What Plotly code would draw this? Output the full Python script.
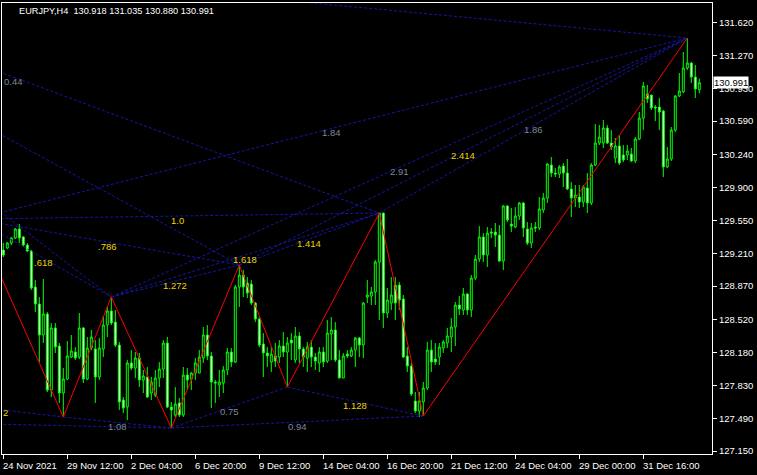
import plotly.graph_objects as go

# ---------------- data ----------------
opens = [129.246,129.267,129.319,129.371,129.465,129.382,129.298,129.236,128.860,128.683,
         128.360,128.579,127.786,128.433,128.245,127.755,127.901,128.130,128.182,128.130,
         128.433,127.901,128.224,128.214,127.922,128.214,128.464,128.610,128.495,128.255,
         127.682,127.609,128.068,128.015,128.120,127.890,127.922,127.755,127.734,127.911,
         128.005,128.276,127.609,127.525,127.651,127.525,127.942,127.901,127.963,127.963,
         128.120,128.360,128.141,127.870,127.838,127.859,127.995,128.182,128.078,128.860,
         128.985,128.902,128.891,128.693,128.526,128.266,128.172,128.078,128.141,128.130,
         128.245,128.182,128.307,128.099,128.349,128.214,128.120,128.234,128.130,128.068,
         128.182,128.088,128.370,128.412,128.099,127.911,128.161,128.141,128.203,128.328,
         128.255,128.756,128.766,128.808,129.121,129.632,128.589,128.693,128.881,128.881,
         128.735,128.141,128.036,127.671,127.567,127.661,127.807,128.203,128.109,128.130,
         128.224,128.276,128.339,128.443,128.672,128.620,128.787,128.620,128.954,129.152,
         129.382,129.194,129.434,129.434,129.402,129.131,129.705,129.517,129.486,129.601,
         129.736,129.465,129.319,129.486,129.475,129.663,129.788,130.132,130.049,130.039,
         130.122,130.049,129.882,129.788,129.799,129.747,129.893,129.736,130.132,130.362,
         130.362,130.518,130.362,130.205,130.331,130.237,130.237,130.247,130.174,130.404,
         130.622,130.873,130.862,130.737,130.737,130.695,130.112,130.195,130.497,130.852,
         130.894,131.144,131.196,131.050,130.918]
highs = [129.319,129.329,129.382,129.475,129.517,129.392,129.319,129.246,128.933,128.756,
         128.944,128.599,128.485,128.485,128.276,128.015,128.297,128.360,128.234,128.589,
         128.443,128.339,128.412,128.307,128.328,128.558,128.652,128.756,128.620,128.287,
         127.713,128.099,128.203,128.182,128.172,127.995,128.026,127.922,127.995,128.078,
         128.307,128.339,127.661,127.817,127.703,128.026,128.015,127.974,128.120,128.203,
         128.443,128.464,128.182,127.890,127.995,128.036,128.224,128.224,128.881,129.090,
         129.037,128.964,128.933,128.704,128.547,128.380,128.234,128.234,128.276,128.307,
         128.391,128.339,128.380,128.443,128.391,128.234,128.287,128.307,128.172,128.234,
         128.234,128.516,128.547,128.495,128.203,128.172,128.203,128.234,128.339,128.339,
         128.704,128.933,128.860,129.142,129.632,129.632,128.850,128.964,128.964,128.912,
         128.777,128.234,128.068,127.765,127.765,127.870,128.287,128.307,128.276,128.276,
         128.307,128.433,128.537,128.704,128.766,128.850,128.798,128.985,129.194,129.496,
         129.423,129.486,129.475,129.528,129.507,129.715,129.715,129.684,129.694,129.747,
         129.747,129.538,129.528,129.538,129.799,129.840,130.153,130.216,130.101,130.132,
         130.153,130.195,129.955,129.924,129.924,129.924,130.049,130.153,130.560,130.549,
         130.602,130.549,130.497,130.414,130.445,130.341,130.341,130.310,130.424,130.685,
         130.998,130.967,130.862,130.758,130.831,130.706,130.320,130.529,130.862,131.092,
         131.311,131.457,131.206,131.175,131.035]
lows = [129.173,129.256,129.298,129.361,129.319,129.277,129.225,128.829,128.599,128.078,
        128.276,127.765,127.713,128.172,127.651,127.505,127.890,128.120,128.099,128.109,
        127.859,127.890,128.203,127.651,127.890,128.130,128.339,128.464,128.234,127.578,
        127.546,127.473,127.995,127.911,127.817,127.755,127.703,127.682,127.713,127.817,
        127.911,127.598,127.390,127.505,127.505,127.505,127.786,127.786,127.890,127.963,
        128.068,128.099,127.598,127.651,127.713,127.755,127.942,128.026,128.068,128.652,
        128.756,128.745,128.672,128.495,128.234,127.922,128.026,127.974,128.026,128.068,
        128.130,127.817,128.099,128.068,128.068,128.026,127.974,128.026,127.995,127.974,
        128.026,128.068,128.099,128.078,127.911,127.911,128.120,128.130,128.026,128.130,
        128.120,128.693,128.672,128.672,128.516,128.433,128.537,128.620,128.516,128.620,
        128.120,127.974,127.724,127.546,127.505,127.515,127.786,127.974,128.047,128.047,
        128.172,128.224,128.182,128.245,128.568,128.568,128.568,128.547,128.933,129.121,
        129.121,129.069,129.371,129.277,129.121,129.037,129.538,129.434,129.475,129.559,
        129.382,129.298,129.267,129.434,129.455,129.632,129.736,130.007,130.007,129.997,
        129.903,129.872,129.590,129.694,129.684,129.694,129.632,129.715,130.122,130.341,
        130.310,130.351,130.289,130.153,130.132,130.164,130.185,130.164,130.153,130.393,
        130.497,130.779,130.706,130.591,130.497,130.007,130.101,130.174,130.477,130.841,
        130.883,131.123,130.987,130.831,130.880]
closes = [129.194,129.319,129.371,129.465,129.371,129.298,129.236,128.850,128.683,128.360,
          128.579,127.786,128.433,128.234,127.755,127.901,128.141,128.193,128.120,128.433,
          127.901,128.224,128.339,127.922,128.224,128.464,128.610,128.485,128.255,127.661,
          127.598,128.068,128.015,128.120,127.890,127.932,127.713,127.870,127.911,128.005,
          128.276,127.609,127.578,127.640,127.525,127.942,127.890,127.963,128.068,128.130,
          128.360,128.141,127.870,127.859,127.870,127.995,128.182,128.078,128.860,128.985,
          128.860,128.798,128.693,128.526,128.255,128.172,128.141,128.161,128.088,128.245,
          128.182,128.276,128.276,128.349,128.214,128.130,128.234,128.130,128.088,128.182,
          128.078,128.380,128.412,128.099,127.911,128.141,128.141,128.203,128.328,128.255,
          128.693,128.777,128.808,129.121,129.632,128.589,128.725,128.777,128.693,128.725,
          128.130,128.036,127.744,127.567,127.671,127.807,128.203,128.078,128.078,128.234,
          128.287,128.349,128.443,128.672,128.631,128.787,128.620,128.954,129.152,129.382,
          129.194,129.423,129.423,129.402,129.131,129.705,129.559,129.496,129.601,129.736,
          129.475,129.319,129.475,129.475,129.674,129.788,130.143,130.049,130.039,130.112,
          130.049,129.882,129.788,129.820,129.747,129.903,129.736,130.132,130.362,130.424,
          130.518,130.362,130.320,130.331,130.153,130.185,130.278,130.174,130.404,130.622,
          130.956,130.821,130.727,130.727,130.685,130.112,130.195,130.497,130.852,130.904,
          131.144,131.196,131.050,130.925,130.991]
bar_index = list(range(len(opens)))

# zigzag pivots (bar index, price)
zz_names = ["A", "B", "C", "D", "E", "F", "G", "H", "I"]
zz_index = [-7, 15, 27, 42, 59, 71, 94, 105, 171]
zz_price = [129.569, 127.505, 128.756, 127.390, 129.090, 127.817, 129.632, 127.515, 131.457]

# earlier pivots off the left edge
extra_names = ["X", "Z", "Z2"]
extra_index = [-89, -20, -25]
extra_price = [132.468, 127.675, 127.452]

# ratio lines (from pivot, to pivot, label, label colour kind)
ratio_from = ["X", "X", "X", "X", "A", "A", "A", "A", "C", "C", "C", "E", "E", "G",
              "Z", "Z2", "B", "D", "F", "D"]
ratio_to = ["C", "E", "G", "I", "C", "E", "G", "I", "E", "G", "I", "G", "I", "I",
            "B", "D", "D", "F", "H", "H"]
ratio_text = ["", "", "0.44", "", ".618", ".786", "1.0", "1.84", "1.272", "1.618", "2.91",
              "1.414", "2.414", "1.86", "2", "", "1.08", "0.75", "1.128", "0.94"]
ratio_kind = ["", "", "g", "", "y", "y", "y", "g", "y", "y", "g",
              "y", "y", "g", "y", "", "g", "g", "y", "g"]

x_tickvals = [0, 16, 32, 48, 64, 80, 96, 112, 128, 144, 160]
x_ticktext = ["24 Nov 2021", "29 Nov 12:00", "2 Dec 04:00", "6 Dec 20:00", "9 Dec 12:00",
              "14 Dec 04:00", "16 Dec 20:00", "21 Dec 12:00", "24 Dec 04:00",
              "29 Dec 00:00", "31 Dec 16:00"]
y_tickvals = [131.620, 131.270, 130.930, 130.590, 130.240, 129.900, 129.550, 129.210,
              128.870, 128.520, 128.180, 127.830, 127.490, 127.150]

title_text = "EURJPY,H4  130.918 131.035 130.880 130.991"
last_price = 130.991

# ---------------- figure ----------------
FONT = "Liberation Sans"
pts = {n: (i, p) for n, i, p in zip(zz_names, zz_index, zz_price)}
pts.update({n: (i, p) for n, i, p in zip(extra_names, extra_index, extra_price)})

fig = go.Figure()

LINE_BLUE = "#1616A8"
for a, b in zip(ratio_from, ratio_to):
    fig.add_trace(go.Scatter(x=[pts[a][0], pts[b][0]], y=[pts[a][1], pts[b][1]],
                             mode="lines", line=dict(color=LINE_BLUE, width=1, dash="3px,2px"),
                             hoverinfo="skip", showlegend=False))

fig.add_trace(go.Candlestick(
    x=bar_index, open=opens, high=highs, low=lows, close=closes,
    increasing=dict(line=dict(color="#00FF00", width=1), fillcolor="#000000"),
    decreasing=dict(line=dict(color="#00FF00", width=1), fillcolor="#FFFFFF"),
    whiskerwidth=0, hoverinfo="skip", showlegend=False))

fig.add_trace(go.Scatter(x=zz_index, y=zz_price, mode="lines",
                         line=dict(color="#FF0000", width=1),
                         hoverinfo="skip", showlegend=False))

x_lo, x_hi = -0.325, 177.175
annotations = []
colors = {"y": "#EED400", "g": "#7C879C"}
for a, b, t, k in zip(ratio_from, ratio_to, ratio_text, ratio_kind):
    if not t:
        continue
    mx = (pts[a][0] + pts[b][0]) / 2
    my = (pts[a][1] + pts[b][1]) / 2
    if mx < 0.5:
        mx = 0.5
    annotations.append(dict(x=mx, y=my, xref="x", yref="y", text=t, showarrow=False,
                            yshift=-4, font=dict(family=FONT, size=9.5, color=colors[k])))

for v, t in zip(x_tickvals, x_ticktext):
    annotations.append(dict(x=v, y=0, xref="x", yref="paper", text=t, showarrow=False,
                            xanchor="left", yanchor="top", xshift=-2, yshift=-4,
                            font=dict(family=FONT, size=9.5, color="#FFFFFF")))

annotations.append(dict(x=0, y=1, xref="paper", yref="paper", text=title_text,
                        showarrow=False, xanchor="left", yanchor="middle",
                        xshift=15, yshift=-8,
                        font=dict(family=FONT, size=9.2, color="#FFFFFF")))

annotations.append(dict(x=1, y=last_price, xref="paper", yref="y",
                        text="130.991", showarrow=False, xanchor="left", yanchor="middle",
                        xshift=1, bgcolor="#FFFFFF", borderpad=0,
                        font=dict(family=FONT, size=9.5, color="#000000")))

fig.update_layout(
    width=757, height=475,
    margin=dict(l=2, r=45, t=3, b=21),
    paper_bgcolor="#000000", plot_bgcolor="#000000",
    showlegend=False,
    annotations=annotations,
    xaxis=dict(range=[x_lo, x_hi], showgrid=False, zeroline=False,
               tickvals=x_tickvals, showticklabels=False,
               ticks="outside", ticklen=4, tickcolor="#FFFFFF",
               showline=True, linecolor="#FFFFFF", linewidth=1, mirror=True,
               rangeslider=dict(visible=False)),
    yaxis=dict(range=[127.119, 131.822], side="right", showgrid=False, zeroline=False,
               tickvals=y_tickvals, ticktext=[f"{v:.3f}" for v in y_tickvals],
               ticks="outside", ticklen=4, tickcolor="#FFFFFF",
               tickfont=dict(family=FONT, size=9.5, color="#FFFFFF"),
               showline=True, linecolor="#FFFFFF", linewidth=1, mirror=True),
)

fig.write_html("out.html",
               config={"displayModeBar": False},
               post_script="document.body.style.margin='0px';"
                           "document.body.style.background='#000000';")
